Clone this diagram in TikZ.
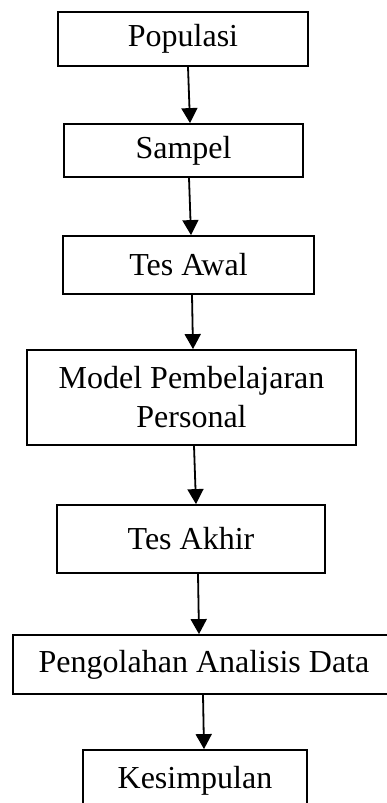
\documentclass[tikz,border=0pt]{standalone}
\usepackage{fontspec}
\setmainfont{Liberation Serif}
\usepackage{tikz}
\usetikzlibrary{arrows.meta}

\begin{document}
\begin{tikzpicture}[x=1pt,y=-1pt,
  stage/.style={draw,line width=1.8pt,inner sep=0pt,align=center,
    font=\fontsize{32}{39}\selectfont},
  flow/.style={-{Triangle[width=16pt,length=15pt]},line width=1.8pt}]
\useasboundingbox (0,0) rectangle (386,803);
\node[stage,minimum width=250,minimum height=54] (pop) at (183,39) {Populasi};
\node[stage,minimum width=239,minimum height=53] (sam) at (183.5,150.5) {Sampel};
\node[stage,minimum width=251,minimum height=58] (awal) at (188.5,265) {Tes Awal};
%%
\node[stage,minimum width=329,minimum height=95] (model) at (191.5,397.5) {Model Pembelajaran\\Personal};
\node[stage,minimum width=268,minimum height=68] (akhir) at (191,539) {Tes Akhir};
\node[stage,minimum width=382,minimum height=59] (olah) at (204,664.5) {Pengolahan Analisis Data};
\node[stage,minimum width=224,minimum height=61] (simp) at (195,780.5) {Kesimpulan};
%%
\draw[flow] ([xshift=5pt]pop.south) -- ([xshift=6.5pt]sam.north);
\draw[flow] ([xshift=5.5pt]sam.south) -- ([xshift=2.5pt]awal.north);
\draw[flow] ([xshift=3.5pt]awal.south) -- ([xshift=1.5pt]model.north);
\draw[flow] ([xshift=2.5pt]model.south) -- ([xshift=5pt]akhir.north);
\draw[flow] ([xshift=7pt]akhir.south) -- ([xshift=-5pt]olah.north);
\draw[flow] ([xshift=-1pt]olah.south) -- ([xshift=9pt]simp.north);
\end{tikzpicture}
\end{document}
